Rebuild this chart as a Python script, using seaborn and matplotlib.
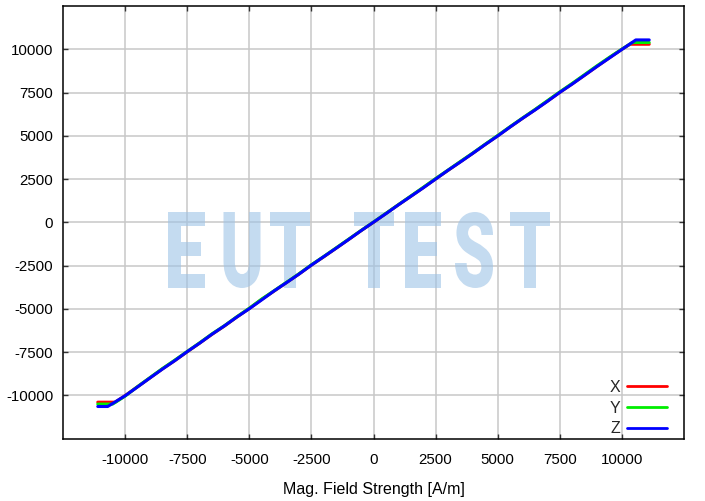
import matplotlib
matplotlib.use("Agg")
import matplotlib.pyplot as plt
import numpy as np
import pandas as pd
import seaborn as sns
from matplotlib.textpath import TextPath
from matplotlib.patches import PathPatch
from matplotlib.font_manager import FontProperties
from matplotlib.transforms import Affine2D

# field strength grid (A/m) shared by the linear part of the three curves
field_inner = [-10000, -9500, -9000, -8500, -8000, -7500, -7000, -6500, -6000, -5500,
               -5000, -4500, -4000, -3500, -3000, -2500, -2000, -1500, -1000, -500,
               0, 500, 1000, 1500, 2000, 2500, 3000, 3500, 4000, 4500,
               5000, 5500, 6000, 6500, 7000, 7500, 8000, 8500, 9000, 9500, 10000]

x_inner = [-10010, -9500, -8990, -8470, -7990, -7480, -6980, -6470, -5990, -5470,
           -4980, -4450, -3970, -3480, -2990, -2470, -1990, -1490, -990, -480,
           0, 510, 1010, 1500, 2000, 2510, 3000, 3500, 3990, 4500,
           5000, 5510, 6010, 6500, 7000, 7510, 8000, 8500, 9010, 9510, 10000]
y_inner = [-10040, -9490, -8970, -8450, -7960, -7460, -6960, -6440, -5970, -5450,
           -4960, -4430, -3950, -3460, -2970, -2450, -1970, -1470, -970, -470,
           20, 520, 1020, 1520, 2020, 2530, 3020, 3520, 4010, 4520,
           5020, 5530, 6030, 6520, 7030, 7540, 8030, 8540, 9050, 9540, 10010]
z_inner = [-10020, -9510, -8990, -8480, -7990, -7470, -6980, -6460, -5980, -5470,
           -4990, -4480, -3960, -3480, -2990, -2470, -1980, -1490, -990, -480,
           10, 500, 1010, 1500, 1990, 2500, 3010, 3490, 3990, 4500,
           4990, 5510, 6010, 6490, 6990, 7510, 7990, 8500, 9010, 9500, 9990]

# saturation plateaus at both ends: (field start, field end) and level
x_ends = [(-11100, -10400, -10390), (10330, 11100, 10290)]
y_ends = [(-11100, -10500, -10500), (10420, 11100, 10390)]
z_ends = [(-11100, -10700, -10640), (10560, 11100, 10540)]

axis_names = ["X", "Y", "Z"]
axis_colors = ["#ff0000", "#00ee00", "#0000ff"]

rows = []
for name, inner, ends in zip(axis_names, [x_inner, y_inner, z_inner], [x_ends, y_ends, z_ends]):
    lo, hi = ends
    hs = [lo[0], lo[1]] + field_inner + [hi[0], hi[1]]
    bs = [lo[2], lo[2]] + inner + [hi[2], hi[2]]
    for h, b in zip(hs, bs):
        rows.append({"H": h, "B": b, "Axis": name})
df = pd.DataFrame(rows)

sns.set_theme(style="whitegrid")
plt.rcParams["font.family"] = ["Liberation Sans", "DejaVu Sans"]
plt.rcParams["axes.unicode_minus"] = False

W, H = 705, 501
fig = plt.figure(figsize=(W / 100, H / 100), dpi=100)
ax = fig.add_axes([63 / W, (H - 438.7) / H, 621 / W, 432.7 / H])

sns.lineplot(data=df, x="H", y="B", hue="Axis", palette=axis_colors, sort=False,
             estimator=None, linewidth=2.2, ax=ax)

ax.set_xlim(-12500, 12500)
ax.set_ylim(-12500, 12500)
ax.set_xticks(np.arange(-10000, 10001, 2500))
ax.set_yticks(np.arange(-10000, 10001, 2500))
ax.set_xlabel("Mag. Field Strength [A/m]", fontsize=11.5, color="black", labelpad=11)
ax.set_ylabel("")
ax.set_facecolor("white")
ax.set_axisbelow(True)
ax.grid(True, color="#c8c8c8", linewidth=1.1)
for s in ax.spines.values():
    s.set_color("black")
    s.set_linewidth(1.1)
ax.tick_params(direction="in", length=3.5, width=1, color="#333333", labelsize=10.8,
               labelcolor="black", top=True, right=True, bottom=True, left=True,
               labeltop=False, labelright=False)
ax.tick_params(axis="x", pad=10)
ax.tick_params(axis="y", pad=7)

handles, labels = ax.get_legend_handles_labels()
for hd in handles:
    hd.set_linewidth(2.0)
ax.legend(handles, labels, loc="lower right", bbox_to_anchor=(1 - 17 / 621, 0.006),
          frameon=False, markerfirst=False, handlelength=2.5, labelspacing=0.35,
          fontsize=11.5, handletextpad=0.45, borderaxespad=0, borderpad=0)

# watermark, letters scaled to box size in pixel coordinates
fp = FontProperties(family="Roboto", weight="black")
wm_letters = ["E", "U", "T", "T", "E", "S", "T"]
wm_centers = [186.5, 242, 290, 374, 423, 474, 530]
wm_widths = [37, 37, 40, 40, 36, 38, 40]
to_fig = Affine2D().scale(1 / W, 1 / H) + fig.transFigure
for ch, cx, w in zip(wm_letters, wm_centers, wm_widths):
    tp = TextPath((0, 0), ch, size=100, prop=fp)
    bb = tp.get_extents()
    tr = (Affine2D().translate(-bb.x0 - bb.width / 2, -bb.y0)
          .scale(w / bb.width, 76 / bb.height).translate(cx, H - 288))
    patch = PathPatch(tp, transform=tr + to_fig, facecolor="#9dc3e6", edgecolor="none",
                      alpha=0.6, zorder=1.5, clip_on=False)
    ax.add_patch(patch)

fig.savefig("out.png", dpi=100)
